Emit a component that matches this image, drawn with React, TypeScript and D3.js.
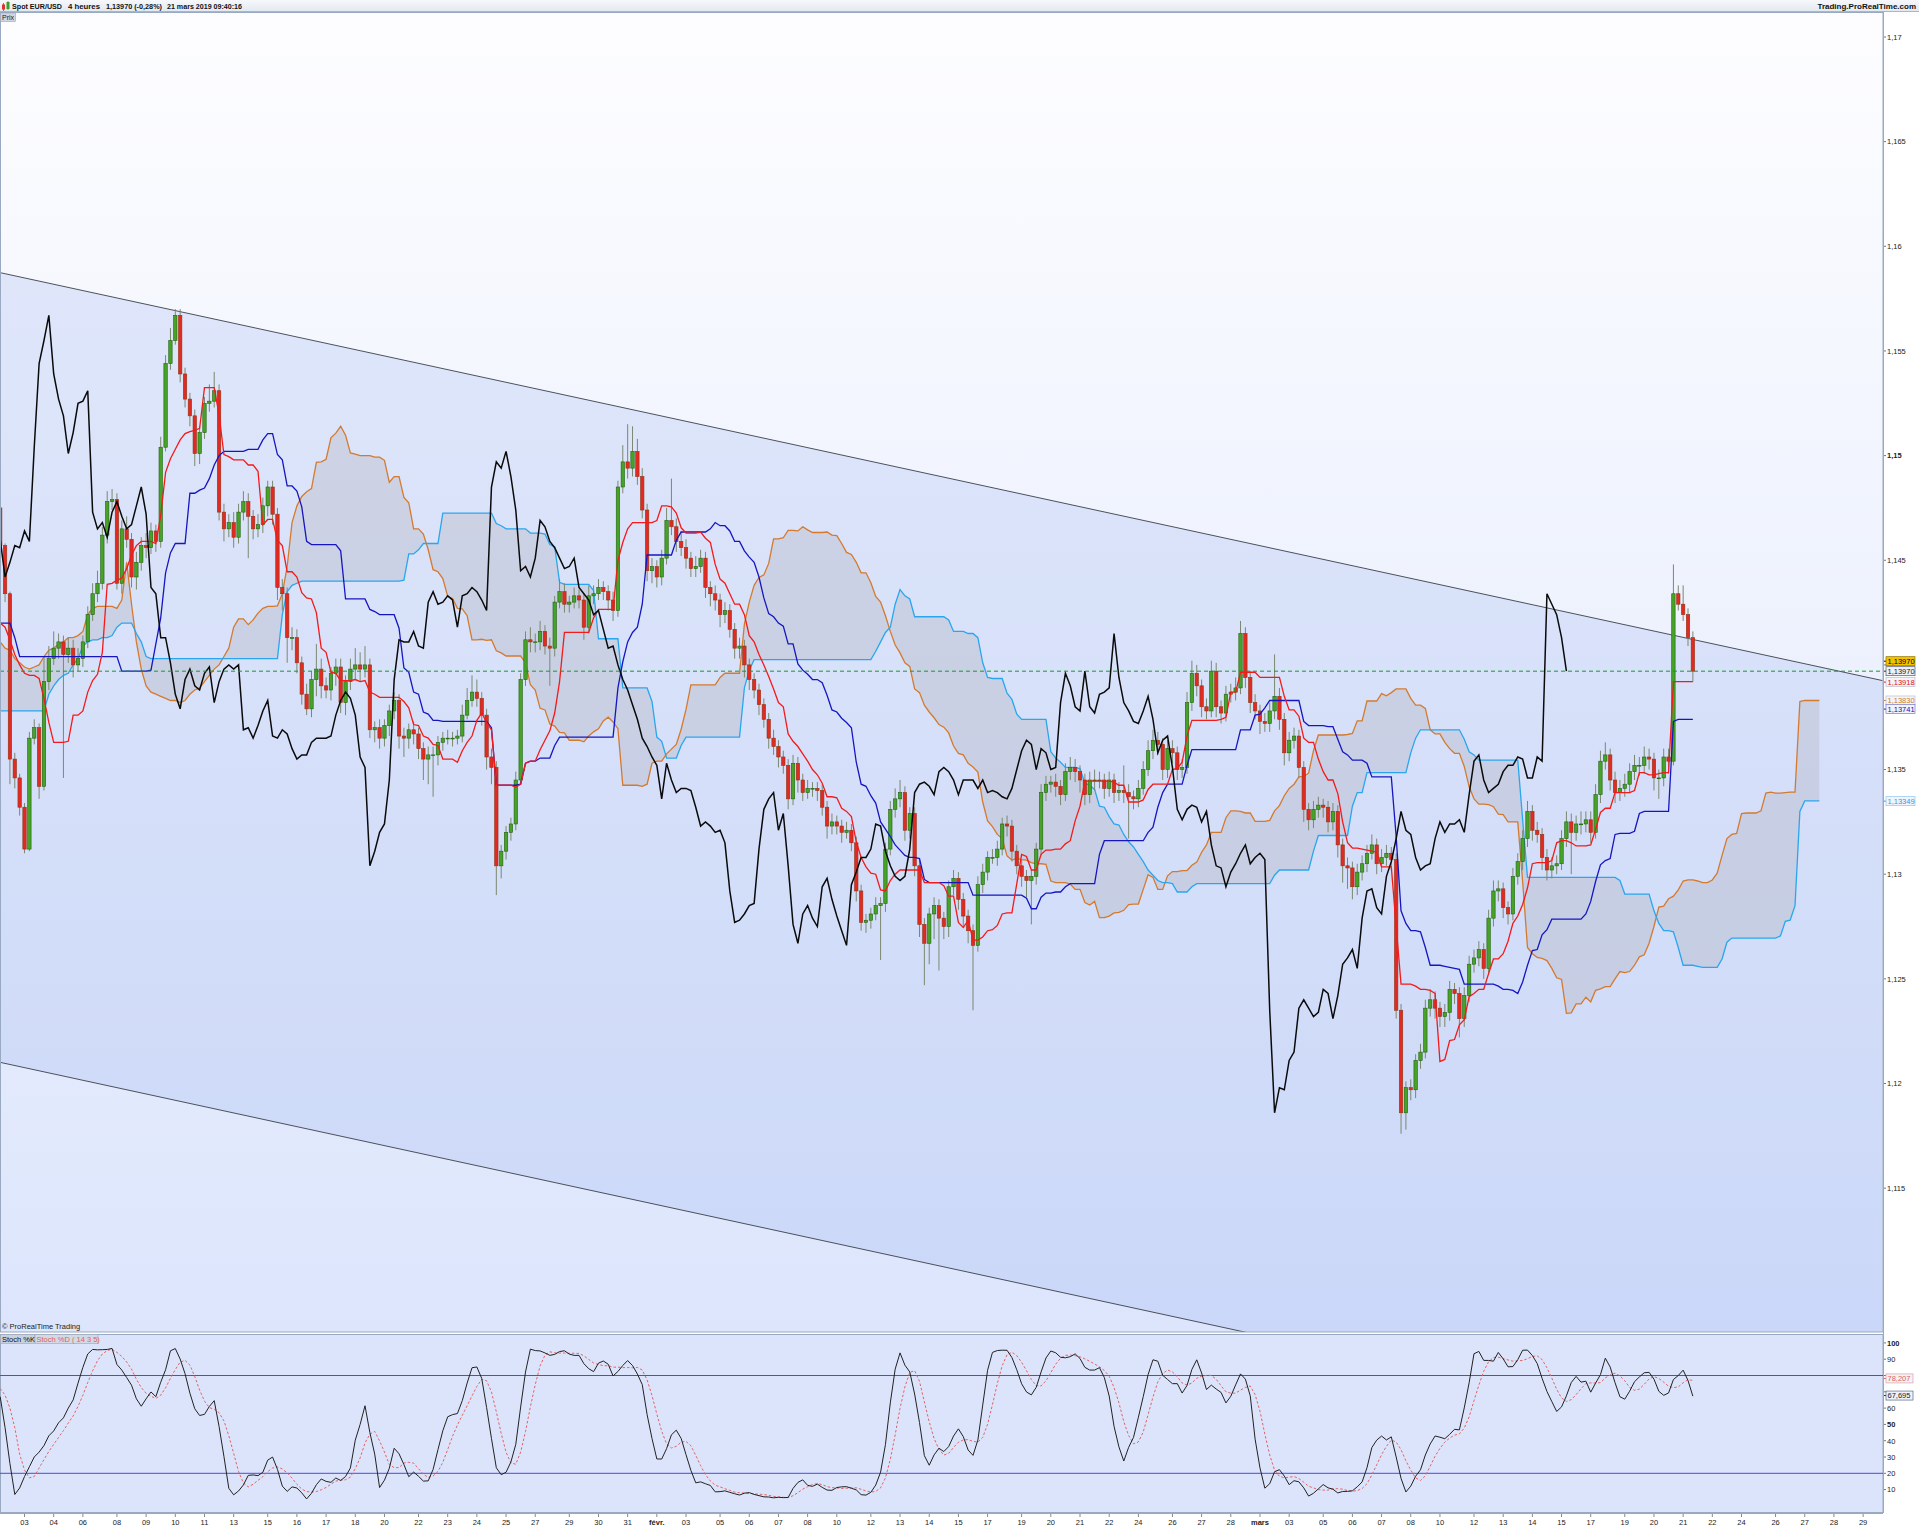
import React, { useEffect } from 'react';
import * as d3 from 'd3';

// ---------------- data ----------------
const firstOpen = 1.1475;
const closes = [
  1.1457,1.1434,1.1355,1.1346,1.1332,1.1312,1.1365,1.1370,1.1342,1.1392,
  1.1403,1.1408,1.1411,1.1405,1.1408,1.1400,1.1403,1.1411,1.1424,1.1434,
  1.1439,1.1462,1.1478,1.1479,1.1439,1.1465,1.1460,1.1442,1.1449,1.1457,
  1.1456,1.1464,1.1459,1.1504,1.1544,1.1555,1.1567,1.1539,1.1527,1.1519,
  1.1501,1.1511,1.1525,1.1526,1.1531,1.1473,1.1465,1.1468,1.1461,1.1473,
  1.1478,1.1471,1.1465,1.1467,1.1476,1.1485,1.1472,1.1437,1.1434,1.1413,
  1.1413,1.1401,1.1386,1.1379,1.1393,1.1398,1.1390,1.1388,1.1396,1.1399,
  1.1382,1.1392,1.1398,1.1400,1.1398,1.1400,1.1369,1.1370,1.1365,1.1371,
  1.1378,1.1383,1.1366,1.1365,1.1369,1.1367,1.1360,1.1355,1.1357,1.1357,
  1.1363,1.1365,1.1365,1.1365,1.1366,1.1376,1.1383,1.1387,1.1384,1.1376,
  1.1356,1.1351,1.1304,1.1311,1.1320,1.1324,1.1345,1.1393,1.1412,1.1411,
  1.1411,1.1416,1.1409,1.1408,1.1430,1.1435,1.1429,1.1430,1.1433,1.1431,
  1.1418,1.1433,1.1434,1.1437,1.1435,1.1431,1.1426,1.1485,1.1497,1.1494,
  1.1502,1.1490,1.1474,1.1445,1.1447,1.1442,1.1451,1.1469,1.1466,1.1459,
  1.1456,1.1451,1.1446,1.1447,1.1451,1.1437,1.1434,1.1431,1.1424,1.1426,
  1.1417,1.1408,1.1409,1.1400,1.1393,1.1388,1.1381,1.1374,1.1365,1.1361,
  1.1356,1.1352,1.1336,1.1353,1.1345,1.1339,1.1341,1.1341,1.1340,1.1332,
  1.1323,1.1325,1.1323,1.1320,1.1321,1.1315,1.1292,1.1277,1.1278,1.1281,
  1.1285,1.1286,1.1312,1.1331,1.1336,1.1339,1.1321,1.1329,1.1304,1.1276,
  1.1267,1.1281,1.1285,1.1279,1.1275,1.1294,1.1298,1.1288,1.1280,1.1273,
  1.1266,1.1295,1.1301,1.1308,1.1308,1.1312,1.1324,1.1323,1.1311,1.1304,
  1.1299,1.1297,1.1299,1.1312,1.1339,1.1343,1.1344,1.1342,1.1338,1.1349,
  1.1351,1.1349,1.1345,1.1338,1.1345,1.1345,1.1345,1.1341,1.1345,1.1339,
  1.1340,1.1339,1.1337,1.1336,1.1341,1.1350,1.1359,1.1364,1.1362,1.1350,
  1.1360,1.1358,1.1350,1.1351,1.1382,1.1396,1.1390,1.1380,1.1378,1.1397,
  1.1380,1.1377,1.1386,1.1387,1.1389,1.1415,1.1394,1.1382,1.1378,1.1373,
  1.1372,1.1378,1.1385,1.1374,1.1358,1.1364,1.1366,1.1351,1.1331,1.1326,
  1.1331,1.1333,1.1332,1.1325,1.1330,1.1314,1.1304,1.1303,1.1294,1.1301,
  1.1305,1.1310,1.1314,1.1305,1.1308,1.1310,1.1307,1.1235,1.1186,1.1198,
  1.1197,1.1211,1.1215,1.1236,1.1240,1.1236,1.1232,1.1234,1.1245,1.1243,
  1.1231,1.1242,1.1257,1.1260,1.1264,1.1255,1.1279,1.1292,1.1293,1.1284,
  1.1281,1.1299,1.1306,1.1317,1.1330,1.1321,1.1319,1.1308,1.1302,1.1304,
  1.1305,1.1317,1.1325,1.1320,1.1324,1.1324,1.1326,1.1320,1.1338,1.1354,
  1.1357,1.1345,1.1339,1.1341,1.1343,1.1349,1.1352,1.1352,1.1356,1.1355,
  1.1346,1.1346,1.1356,1.1354,1.1434,1.1429,1.1424,1.1413,1.1397,
];
// wick lengths beyond the body, in pips (0.0001)
const wickUpPips = [
  2,1,1,3,2,2,3,4,2,12, 6,8,4,3,5,4,5,3,4,5, 6,4,5,5,3,4,6,3,5,4, 6,4,3,5,4,6,3,3,3,3,
  3,3,3,8,9,3,4,4,5,4, 5,4,3,5,4,3,3,3,4,3, 5,4,3,5,4,12,5,4,3,4, 4,3,5,8,6,9,3,3,4,3,
  3,4,3,4,3,4,3,3,4,4, 3,3,4,3,3,5,6,8,6,3, 3,4,3,3,3,3,4,3,4,6, 4,5,3,4,3,6,4,3,4,3,
  3,5,4,4,3,3,4,3,8,18, 12,6,4,3,4,3,4,6,20,4, 5,4,3,5,4,3,3,4,3,4, 3,3,4,3,3,3,3,3,3,4,
  3,3,3,4,3,3,4,3,3,3, 3,4,3,3,4,3,3,3,3,3, 4,3,3,4,5,6,3,3,3,3, 3,3,4,3,3,3,4,3,3,3,
  3,4,4,3,4,4,3,4,3,3, 3,3,3,3,4,4,3,4,3,4, 5,4,3,3,4,5,4,3,4,3, 4,12,4,3,4,4,5,5,4,3,
  4,4,3,4,5,6,4,3,4,5, 4,3,4,4,5,6,3,3,4,3, 4,4,20,4,3,4,4,3,3,3, 4,4,3,3,4,3,3,4,3,4,
  4,4,5,3,4,4,3,3,3,3, 4,3,4,4,5,4,3,4,4,3, 3,4,4,4,4,3,4,5,4,3, 3,4,4,4,5,3,4,3,4,4,
  4,4,5,4,4,6,4,4,5,5, 6,3,4,4,5,4,5,4,5,4, 3,4,4,4,14,4,9,3,3,
];
const wickDownPips = [
  2,4,12,5,4,2,1,3,6,2, 4,3,5,59,4,6,3,4,3,3, 4,3,4,4,3,5,4,5,6,4, 5,3,5,3,2,3,2,4,4,5,
  6,5,3,4,3,4,6,4,5,3, 4,20,5,4,4,5,5,6,8,12, 6,5,5,3,4,8,6,4,5,6, 5,6,4,5,6,4,4,6,5,4,
  5,4,6,9,5,5,5,10,12,20, 5,4,3,4,3,3,2,3,4,5, 6,8,14,6,4,4,3,2,3,5, 5,4,4,18,4,3,4,4,3,4,
  6,3,4,3,4,5,5,3,3,5, 4,4,4,5,6,5,4,3,4,5, 4,5,4,4,3,5,6,5,6,4, 4,5,5,6,5,4,5,4,5,4,
  5,4,5,3,6,4,3,4,5,4, 6,4,4,5,3,4,5,4,5,4, 3,26,4,3,4,4,5,4,5,6, 20,10,12,25,6,5,4,5,5,6,
  31,3,4,4,3,4,3,5,5,4, 5,8,21,4,3,4,4,5,5,3, 4,5,6,5,4,5,4,5,4,5, 4,5,20,5,4,3,3,4,5,5,
  4,5,5,4,3,4,5,5,4,3, 5,5,4,4,4,3,5,5,4,6, 4,4,4,5,6,4,4,5,6,5, 4,4,5,5,4,6,8,10,6,4,
  4,4,3,5,4,4,5,4,10,8, 5,4,4,3,4,5,5,5,4,5, 9,4,3,4,4,5,3,4,5,5, 5,3,4,4,4,5,4,6,5,4,
  4,3,4,20,4,5,4,5,3,4, 4,5,5,4,4,4,4,5,4,5, 6,10,4,6,2,3,3,4,5,
];
// indicator values at the left edge (their history lies before the first visible candle)
const tenkanHead = [1.1420,1.1418,1.1412,1.1405,1.1400,1.1396,1.1395,1.1395];
const kijunHead = [1.1420,1.1420,1.1420,1.1413,
  1.1404,1.1404,1.1404,1.1404,1.1404,1.1404,1.1404,1.1404,1.1404,1.1404,1.1404,
  1.1404,1.1404,1.1404,1.1404,1.1404,1.1404,1.1404,1.1404,1.1404,1.1404];
const spanAHead = [
  1.1411,1.1408,1.1407,1.1403,1.1401,1.1399,1.1398,1.1399,1.1400,1.1404,
  1.1407,1.1408,1.1410,1.1411,1.1413,1.1413,1.1414,1.1416,1.1424,1.1427,
  1.1428,1.1428,1.1428,1.1428,1.1427,1.1431,1.1449,1.1429,1.1411,1.1398,
  1.1390,1.1387,1.1386,1.1385,1.1384,1.1383,1.1383,1.1382,1.1383,1.1386,
  1.1388,1.1389,1.1392,1.1395,1.1398,1.1400,1.1404,1.1408,1.1418,1.1422,
  1.1422,
];
const spanBHead = [
  1.1378,1.1378,1.1378,1.1378,1.1378,1.1378,1.1378,1.1378,1.1378,1.1378,
  1.1386,1.1390,1.1393,1.1395,1.1396,1.1400,1.1403,1.1409,1.1411,1.1412,
  1.1412,1.1413,1.1413,1.1414,1.1418,1.1420,1.1420,1.1420,1.1415,1.1411,
  1.1404,1.1403,1.1403,1.1403,1.1403,1.1403,1.1403,1.1403,1.1403,1.1403,
  1.1403,1.1403,1.1403,1.1403,1.1403,1.1403,1.1403,1.1403,1.1403,1.1403,
  1.1403,1.1403,1.1403,1.1403,1.1403,1.1403,1.1403,1.1403,1.1424,1.1435,
  1.1438,1.1439,1.1440,1.1440,1.1440,1.1440,1.1440,1.1440,1.1440,1.1440,
  1.1440,1.1440,1.1440,1.1440,1.1440,1.1440,1.1440,
];
const stochKHead = [67,48,26,7,11,18,24,30,33,37,43,46,51,54,60];
const stochDHead = [72,68,60,48];

const priceTicks = [1.115,1.12,1.125,1.13,1.135,1.14,1.145,1.15,1.155,1.16,1.165,1.17];
const boldPriceTicks = [1.15];
const stochTicks = [10,20,30,40,50,60,70,80,90,100];
const boldStochTicks = [50,100];
const stochLevels = [20, 80];
const channelUpper = [{ i: 0, p: 1.15874 }, { i: 387, p: 1.13925 }];
const channelLower = [{ i: 0, p: 1.12101 }, { i: 387, p: 1.10152 }];
const lastPrice = 1.1397;
const priceTags = [
  { value: 1.1397, text: '1,13970', kind: 'current' },
  { value: 1.1397, text: '1,13970', kind: 'chikou' },
  { value: 1.13918, text: '1,13918', kind: 'tenkan' },
  { value: 1.1383, text: '1,13830', kind: 'spanA' },
  { value: 1.13741, text: '1,13741', kind: 'kijun' },
  { value: 1.13349, text: '1,13349', kind: 'spanB' },
];
const stochTags = [
  { value: 78.207, text: '78,207', kind: 'd' },
  { value: 67.695, text: '67,695', kind: 'k' },
];
const monthNames = ['janv.', 'févr.', 'mars', 'avr.'];
const headerParts = ['Spot EUR/USD', '4 heures', '1,13970 (-0,28%)', '21 mars 2019 09:40:16'];

// ---------------- styles ----------------
const FONT = 'Liberation Sans, Arial, Helvetica, sans-serif';
const COL = {
  tenkan: '#f41a1a', kijun: '#1616c0', spanA: '#d47a2e', spanB: '#2aa6ee', chikou: '#0a0a0a',
  up: '#47a228', upEdge: '#22620e', down: '#e32a22', downEdge: '#8e3414', wick: '#7b8870',
};
const tagStyle: Record<string, any> = {
  current: { fill: '#f3c300', stroke: '#8f7300', color: '#000', dy: -10 },
  chikou: { fill: '#eef1f7', stroke: '#505868', color: '#222', dy: 0 },
  tenkan: { fill: '#f3f4fa', stroke: '#b9bfd0', color: '#e01010', dy: 0 },
  spanA: { fill: '#f3f4fa', stroke: '#b9bfd0', color: '#d07a2c', dy: 0 },
  kijun: { fill: '#f3f4fa', stroke: '#7a7ad0', color: '#1010c0', dy: -10 },
  spanB: { fill: '#f3f4fa', stroke: '#8cc8f0', color: '#1e9ef0', dy: 0 },
  d: { fill: '#f1f2fa', stroke: '#e0a0a0', color: '#e06060', dy: 0 },
  k: { fill: '#eef1f7', stroke: '#5a6a8a', color: '#222', dy: 0 },
};
// header layout: [x, width] for each header part
const headerSlots = [[12, 50], [68, 32], [106, 56], [167, 75]];

function midRange(hs: number[], ls: number[], end: number, len: number) {
  let hh = -Infinity, ll = Infinity;
  for (let k = end - len + 1; k <= end; k++) { hh = Math.max(hh, hs[k]); ll = Math.min(ll, ls[k]); }
  return (hh + ll) / 2;
}

export default function App() {
  useEffect(() => { document.body.style.margin = '0'; }, []);
  const W = 1919, H = 1528;
  const plotRight = 1883;
  const mainTop = 12, mainBottom = 1332;
  const stTop = 1334, stBottom = 1513;

  const x = d3.scaleLinear().domain([0, 387]).range([0.2, 0.2 + 387 * 4.864]);
  const y = d3.scaleLinear().domain([1.115, 1.17]).range([1188.15, 37]);
  const ys = d3.scaleLinear().domain([0, 100]).range([1505.9, 1342.9]);

  const N = closes.length;
  const opens = closes.map((c, i) => (i === 0 ? firstOpen : closes[i - 1]));
  const highs = closes.map((c, i) => Math.max(opens[i], c) + wickUpPips[i] / 10000);
  const lows = closes.map((c, i) => Math.min(opens[i], c) - wickDownPips[i] / 10000);

  const tenkan = closes.map((c, i) => (i < 8 ? tenkanHead[i] : midRange(highs, lows, i, 9)));
  const kijun = closes.map((c, i) => (i < 25 ? kijunHead[i] : midRange(highs, lows, i, 26)));
  const cloud: { i: number; a: number; b: number }[] = [];
  for (let d = 0; d < N + 26; d++) {
    const a = d < spanAHead.length ? spanAHead[d] : (tenkan[d - 26] + kijun[d - 26]) / 2;
    const b = d < spanBHead.length ? spanBHead[d] : midRange(highs, lows, d - 26, 52);
    cloud.push({ i: d, a, b });
  }
  const chikou = closes.slice(26).map((c, k) => ({ i: k, v: c }));

  const raw = closes.map((c, i) => {
    if (i < 13) return NaN;
    let hh = -Infinity, ll = Infinity;
    for (let k = i - 13; k <= i; k++) { hh = Math.max(hh, highs[k]); ll = Math.min(ll, lows[k]); }
    return ((c - ll) / (hh - ll)) * 100;
  });
  const stK = closes.map((c, i) => (i < stochKHead.length ? stochKHead[i] : (raw[i] + raw[i - 1] + raw[i - 2]) / 3));
  const stD = stK.map((v, i) => (i < stochDHead.length ? stochDHead[i] : d3.mean(stK.slice(i - 4, i + 1)) as number));

  const lineP = (pts: { i: number; v: number }[], sy: any) =>
    d3.line<{ i: number; v: number }>().x((d) => x(d.i)).y((d) => sy(d.v))(pts) || '';
  const area = d3.area<{ i: number; a: number; b: number }>().x((d) => x(d.i)).y0((d) => y(d.a)).y1((d) => y(d.b))(cloud) || '';

  // sessions for the date axis
  const sessions: { day: number; month: number; wd: number; start: number }[] = [];
  {
    let idx = -1;
    const dt = new Date(Date.UTC(2019, 0, 2));
    const end = Date.UTC(2019, 2, 29);
    while (dt.getTime() <= end) {
      const wd = dt.getUTCDay();
      const n = wd === 6 ? 0 : wd === 0 ? 1 : 6;
      if (n > 0) { sessions.push({ day: dt.getUTCDate(), month: dt.getUTCMonth(), wd, start: idx }); idx += n; }
      dt.setUTCDate(dt.getUTCDate() + 1);
    }
  }
  const dayLabels = sessions.filter((s) => s.start >= 0 && s.wd !== 1);

  const fmtPrice = (v: number) => String(+v.toFixed(3)).replace('.', ',');
  const chX0 = x(channelUpper[0].i), chX1 = x(channelUpper[1].i);
  const channelPoly = `M${chX0},${y(channelUpper[0].p)} L${chX1},${y(channelUpper[1].p)} L${chX1},${y(channelLower[1].p)} L${chX0},${y(channelLower[0].p)} Z`;

  const candleW = 3.4;

  // positions of value tags (tick labels covered by a tag are not written, as in the reference)
  const priceTagYs = priceTags.map((t) => y(t.value) + tagStyle[t.kind].dy);
  const stochTagYs = stochTags.map((t) => ys(t.value) + tagStyle[t.kind].dy);
  const covered = (ty: number, tagYs: number[]) => tagYs.some((v) => Math.abs(v - ty) < 9);

  return (
    <svg width={W} height={H} style={{ position: 'absolute', left: 0, top: 0, display: 'block' }} fontFamily={FONT}>
      <defs>
        <linearGradient id="bgMain" x1="0" y1="0" x2="0" y2="1">
          <stop offset="0" stopColor="#fdfdff" />
          <stop offset="1" stopColor="#dce5fc" />
        </linearGradient>
        <linearGradient id="hdr" x1="0" y1="0" x2="0" y2="1">
          <stop offset="0" stopColor="#f6f8fb" />
          <stop offset="1" stopColor="#e2e8f0" />
        </linearGradient>
        <clipPath id="clipMain"><rect x={0} y={mainTop} width={plotRight} height={mainBottom - mainTop} /></clipPath>
        <clipPath id="clipSt"><rect x={0} y={stTop} width={plotRight} height={stBottom - stTop} /></clipPath>
      </defs>
      <rect x={0} y={0} width={W} height={H} fill="#ffffff" />

      {/* header */}
      <rect x={0} y={0} width={W} height={mainTop} fill="url(#hdr)" />
      <line x1={0} x2={W} y1={mainTop - 0.5} y2={mainTop - 0.5} stroke="#a8b6ca" />
      <rect x={2} y={4.5} width={3} height={5} fill="#e23030" />
      <line x1={3.5} x2={3.5} y1={3} y2={11} stroke="#e23030" strokeWidth={0.8} />
      <rect x={6.5} y={2} width={3} height={7} fill="#3ca028" />
      <line x1={8} x2={8} y1={1} y2={10} stroke="#3ca028" strokeWidth={0.8} />
      {headerParts.map((t, k) => (
        <text key={k} x={headerSlots[k][0]} y={9} fontSize={7.5} fontWeight="bold" fill="#111"
          textLength={headerSlots[k][1]} lengthAdjust="spacingAndGlyphs">{t}</text>
      ))}
      <text x={1916} y={9} fontSize={8} fontWeight="bold" fill="#111" textAnchor="end">Trading.ProRealTime.com</text>

      {/* main panel */}
      <g clipPath="url(#clipMain)">
        <rect x={0} y={mainTop} width={plotRight} height={mainBottom - mainTop} fill="url(#bgMain)" />
        <path d={channelPoly} fill="rgba(140,168,238,0.22)" />
        <line x1={chX0} y1={y(channelUpper[0].p)} x2={chX1} y2={y(channelUpper[1].p)} stroke="#3a3f4a" strokeWidth={0.9} />
        <line x1={chX0} y1={y(channelLower[0].p)} x2={chX1} y2={y(channelLower[1].p)} stroke="#3a3f4a" strokeWidth={0.9} />
        <path d={area} fill="rgba(175,175,182,0.32)" />
        <path d={lineP(cloud.map((d) => ({ i: d.i, v: d.a })), y)} fill="none" stroke={COL.spanA} strokeWidth={1.3} />
        <path d={lineP(cloud.map((d) => ({ i: d.i, v: d.b })), y)} fill="none" stroke={COL.spanB} strokeWidth={1.3} />
        {closes.map((c, i) => {
          const o = opens[i];
          const up = c >= o;
          const cx = x(i);
          const top = y(Math.max(o, c));
          const bot = y(Math.min(o, c));
          return (
            <g key={i}>
              <line x1={cx} x2={cx} y1={y(highs[i])} y2={y(lows[i])} stroke={COL.wick} strokeWidth={1} />
              <rect x={cx - candleW / 2} y={top} width={candleW} height={Math.max(bot - top, 0.8)}
                fill={up ? COL.up : COL.down} stroke={up ? COL.upEdge : COL.downEdge} strokeWidth={0.6} />
            </g>
          );
        })}
        <path d={lineP(kijun.map((v, i) => ({ i, v })), y)} fill="none" stroke={COL.kijun} strokeWidth={1.3} />
        <path d={lineP(tenkan.map((v, i) => ({ i, v })), y)} fill="none" stroke={COL.tenkan} strokeWidth={1.3} />
        <path d={lineP(chikou, y)} fill="none" stroke={COL.chikou} strokeWidth={1.5} />
        <line x1={0} x2={plotRight} y1={y(lastPrice)} y2={y(lastPrice)} stroke="#109a30" strokeWidth={1} strokeDasharray="4,3" />
        <text x={2} y={1329} fontSize={7.5} fill="#222">© ProRealTime Trading</text>
      </g>
      <rect x={0.5} y={mainTop + 0.5} width={plotRight - 0.5} height={mainBottom - mainTop - 0.5} fill="none" stroke="#9aa9c2" />
      <rect x={0.5} y={mainTop + 1} width={15} height={8.5} fill="#cfd6e1" stroke="#9aa6b8" strokeWidth={0.6} />
      <text x={2} y={mainTop + 8} fontSize={7} fill="#222">Prix</text>

      {/* price axis */}
      {priceTicks.map((p) => (
        <g key={p}>
          <line x1={plotRight} x2={plotRight + 3} y1={y(p)} y2={y(p)} stroke="#777" />
          {!covered(y(p), priceTagYs) && (
            <text x={plotRight + 4} y={y(p) + 2.8} fontSize={7.5} fill="#222" fontWeight={boldPriceTicks.includes(p) ? 'bold' : 'normal'}>{fmtPrice(p)}</text>
          )}
        </g>
      ))}
      {priceTags.map((t, k) => {
        const st = tagStyle[t.kind];
        const ty = priceTagYs[k];
        return (
          <g key={k}>
            <line x1={plotRight} x2={plotRight + 3} y1={ty} y2={ty} stroke={st.color} />
            <rect x={plotRight + 3} y={ty - 4.5} width={29} height={9} fill={st.fill} stroke={st.stroke} strokeWidth={0.7} />
            <text x={plotRight + 4.5} y={ty + 2.7} fontSize={7.5} fill={st.color}>{t.text}</text>
          </g>
        );
      })}

      {/* stochastic panel */}
      <rect x={0.5} y={stTop + 0.5} width={plotRight - 0.5} height={stBottom - stTop - 1} fill="#dbe4fb" stroke="#9aa9c2" />
      <g clipPath="url(#clipSt)">
        {stochLevels.map((v) => (
          <line key={v} x1={0} x2={plotRight} y1={ys(v)} y2={ys(v)} stroke="#4a4ae4" strokeWidth={1} />
        ))}
        <path d={lineP(stD.map((v, i) => ({ i, v })), ys)} fill="none" stroke="#e26464" strokeWidth={1} strokeDasharray="2.5,2" />
        <path d={lineP(stK.map((v, i) => ({ i, v })), ys)} fill="none" stroke="#222" strokeWidth={1} />
      </g>
      <rect x={0.5} y={stTop + 0.5} width={34} height={9} fill="#c9d1de" stroke="#9aa6b8" strokeWidth={0.6} />
      <text x={2} y={stTop + 8} fontSize={7.5} fill="#111">Stoch %K</text>
      <rect x={35} y={stTop + 0.5} width={63} height={9} fill="#d3dae6" stroke="#9aa6b8" strokeWidth={0.6} />
      <text x={36.5} y={stTop + 8} fontSize={7.5} fill="#e06060">Stoch %D ( 14 3 5)</text>
      {stochTicks.map((v) => (
        <g key={v}>
          <line x1={plotRight} x2={plotRight + 3} y1={ys(v)} y2={ys(v)} stroke="#777" />
          {!covered(ys(v), stochTagYs) && (
            <text x={plotRight + 4} y={ys(v) + 2.8} fontSize={7.5} fill="#222" fontWeight={boldStochTicks.includes(v) ? 'bold' : 'normal'}>{v}</text>
          )}
        </g>
      ))}
      {stochTags.map((t, k) => {
        const st = tagStyle[t.kind];
        const ty = stochTagYs[k];
        return (
          <g key={k}>
            <line x1={plotRight} x2={plotRight + 3} y1={ty} y2={ty} stroke={st.color} />
            <rect x={plotRight + 3} y={ty - 4.5} width={27} height={9} fill={st.fill} stroke={st.stroke} strokeWidth={0.7} />
            <text x={plotRight + 4.5} y={ty + 2.7} fontSize={7.5} fill={st.color}>{t.text}</text>
          </g>
        );
      })}

      {/* date axis */}
      <line x1={0} x2={plotRight} y1={stBottom + 0.5} y2={stBottom + 0.5} stroke="#9aa9c2" />
      {dayLabels.map((s, k) => {
        const lx = x(s.start);
        const isMonth = s.day === 1;
        return (
          <g key={k}>
            <line x1={lx} x2={lx} y1={stBottom + 1} y2={stBottom + 4} stroke="#888" />
            <text x={lx} y={1525} fontSize={7.5} textAnchor="middle" fill="#222" fontWeight={isMonth ? 'bold' : 'normal'}>
              {isMonth ? monthNames[s.month] : String(s.day).padStart(2, '0')}
            </text>
          </g>
        );
      })}
      <line x1={plotRight + 0.5} x2={plotRight + 0.5} y1={mainTop} y2={stBottom} stroke="#9aa9c2" />
    </svg>
  );
}
